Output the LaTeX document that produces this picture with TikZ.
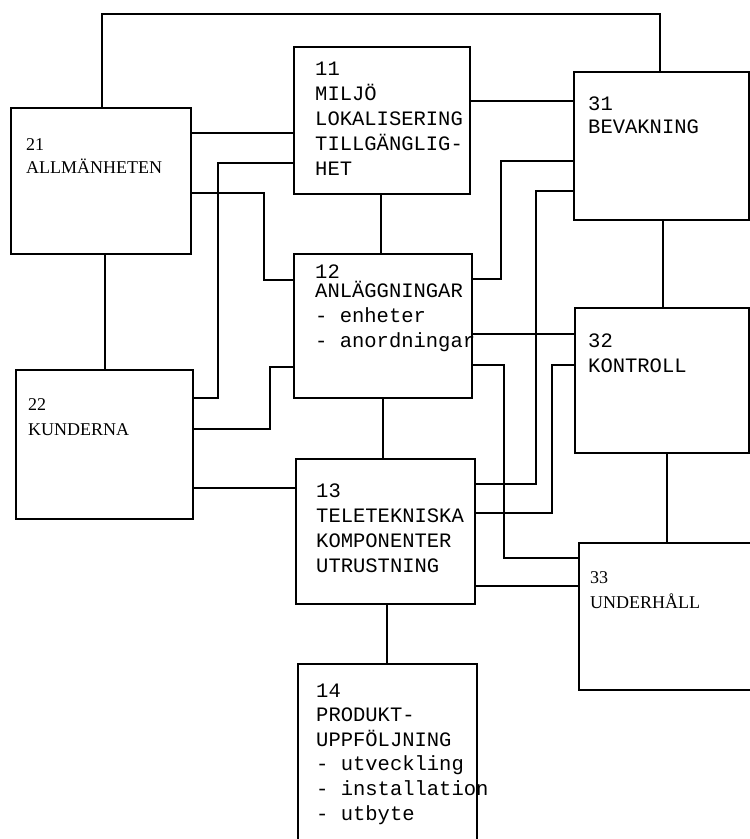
\documentclass[tikz,border=0pt]{standalone}
\usepackage{fontspec}
\setmainfont{Liberation Serif}
\setmonofont{Liberation Mono}
\usetikzlibrary{positioning}
\usetikzlibrary{calc}

\begin{document}
\begin{tikzpicture}[
    x=1pt, y=-1pt,
    box/.style = {draw, line width=1.8pt, rectangle, inner sep=0pt, anchor=north west},
    wire/.style = {line width=1.8pt},
    tw/.style = {font=\fontsize{20.5}{25}\selectfont\ttfamily, align=left, anchor=base west, inner sep=0pt},
    pr/.style = {font=\fontsize{18}{25}\selectfont\rmfamily, align=left, anchor=base west, inner sep=0pt},
    ]

    \useasboundingbox (0,0) rectangle (750,839);
    \clip (0,0) rectangle (750,839);

    % boxes
    \node[box, minimum width=176pt, minimum height=147pt] (n11) at (293,46) {};
    \node[box, minimum width=178pt, minimum height=144pt] (n12) at (293,253) {};
    \node[box, minimum width=179pt, minimum height=145pt] (n13) at (295,458) {};
    \node[box, minimum width=179pt, minimum height=190pt] (n14) at (297,663) {};
    \node[box, minimum width=180pt, minimum height=146pt] (n21) at (10,107) {};
    \node[box, minimum width=177pt, minimum height=149pt] (n22) at (15,369) {};
    \node[box, minimum width=175pt, minimum height=148pt] (n31) at (573,71) {};
    \node[box, minimum width=174pt, minimum height=145pt] (n32) at (574,307) {};
    \node[box, minimum width=180pt, minimum height=147pt] (n33) at (578,542) {};

    % texts (anchored on the last line)
    \node[tw] (t11) at ([shift={(22,129)}]n11.north west)
      {11\\MILJÖ\\LOKALISERING\\TILLGÄNGLIG-\\HET};
    \node[tw] (t12) at ([shift={(22,94)}]n12.north west)
      {12\\[-6pt]ANLÄGGNINGAR\\- enheter\\- anordningar};
    \node[tw] (t13) at ([shift={(21,114)}]n13.north west)
      {13\\TELETEKNISKA\\KOMPONENTER\\UTRUSTNING};
    \node[tw, font=\fontsize{20.5}{24.6}\selectfont\ttfamily] (t14) at ([shift={(19,157)}]n14.north west)
      {14\\PRODUKT-\\UPPFÖLJNING\\- utveckling\\- installation\\- utbyte};
    \node[pr] (t21) at ([shift={(16,66)}]n21.north west) {21\\[-2pt]ALLMÄNHETEN};
    \node[pr] (t22) at ([shift={(13,66)}]n22.north west) {22\\KUNDERNA};
    \node[tw] (t31) at ([shift={(15,62)}]n31.north west) {31\\[-2pt]BEVAKNING};
    \node[tw] (t32) at ([shift={(14,65)}]n32.north west) {32\\KONTROLL};
    \node[pr] (t33) at ([shift={(12,66)}]n33.north west) {33\\UNDERHÅLL};

    % vertical links
    \draw[wire] (n21.south -| 105,0) -- (n22.north -| 105,0);
    \draw[wire] (n11.south -| 381,0) -- (n12.north -| 381,0);
    \draw[wire] (n12.south -| 383,0) -- (n13.north -| 383,0);
    \draw[wire] (n13.south -| 387,0) -- (n14.north -| 387,0);
    \draw[wire] (n31.south -| 663,0) -- (n32.north -| 663,0);
    \draw[wire] (n32.south -| 667,0) -- (n33.north -| 667,0);

    % 21 -> 31 over the top
    \draw[wire] (n21.north -| 102,0) -- ++(0,-93) -| (n31.north -| 660,0);

    % left side
    \draw[wire] (n21.east |- 0,133) -- (n11.west |- 0,133);
    \draw[wire] (n11.west |- 0,163) -- ++(-75,0) |- (n22.east |- 0,398);
    \draw[wire] (n21.east |- 0,193) -- ++(72,0) |- (n12.west |- 0,280);
    \draw[wire] (n22.east |- 0,429) -- ++(76,0) |- (n12.west |- 0,367);
    \draw[wire] (n22.east |- 0,488) -- (n13.west |- 0,488);

    % right side
    \draw[wire] (n11.east |- 0,101) -- (n31.west |- 0,101);
    \draw[wire] (n12.east |- 0,279) -- ++(28,0) |- (n31.west |- 0,161);
    \draw[wire] (n13.east |- 0,484) -- ++(60,0) |- (n31.west |- 0,191);
    \draw[wire] (n12.east |- 0,334) -- (n32.west |- 0,334);
    \draw[wire] (n12.east |- 0,365) -- ++(31,0) |- (n33.west |- 0,558);
    \draw[wire] (n13.east |- 0,513) -- ++(76,0) |- (n32.west |- 0,365);
    \draw[wire] (n13.east |- 0,586) -- (n33.west |- 0,586);

\end{tikzpicture}
\end{document}
